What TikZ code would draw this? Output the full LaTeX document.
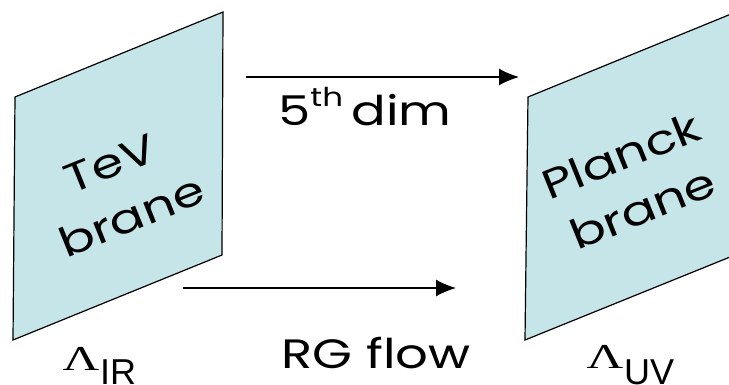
\documentclass[tikz,border=0pt]{standalone}
\usepackage{fontspec}
\setmainfont{Liberation Serif}
\newfontfamily\comic{Poppins}
\newfontfamily\lab{Liberation Sans}
\usetikzlibrary{arrows.meta}
\definecolor{brane}{HTML}{C6E5E8}
\newcommand{\wide}[1]{\scalebox{1.25}[1]{#1}}
\begin{document}
\begin{tikzpicture}[x=1pt,y=-1pt,
  branebox/.style={fill=brane,draw=black,line width=1.2pt,line join=miter},
  flow/.style={-{Latex[length=20pt,width=17pt]},line width=1.3pt},
  comictext/.style={font=\comic\fontsize{41}{57}\selectfont,inner sep=0pt,align=center},
  lam/.style={font=\fontsize{35}{36}\selectfont,inner sep=0pt,anchor=base},
  sub/.style={font=\lab\fontsize{36}{38}\selectfont,inner sep=0pt,anchor=base west}]
\useasboundingbox (0,0) rectangle (729,384);
\clip (0,0) rectangle (729,384);
\fill[white] (0,0) rectangle (729,384);
% branes
\draw[branebox] (15,97) -- (223,12) -- (222,255) -- (13,340) -- cycle;
\draw[branebox] (528,97) -- (736,12) -- (735,255) -- (525,340) -- cycle;
\node[comictext,rotate=22] (tev) at (121,190) {\wide{TeV}\\\wide{brane}};
\node[comictext,rotate=22] (planck) at (632,182) {\wide{Planck}\\\wide{brane}};
% arrows
\coordinate (a1) at (246,77);
\coordinate (b1) at (519,77);
\coordinate (a2) at (183,288);
\coordinate (b2) at (456,288);
\draw[flow] (a1) -- (b1);
\draw[flow] (a2) -- (b2);
\node[comictext,anchor=base] (dim) at (365,125) {\wide{5\raisebox{0.45em}{\fontsize{26}{28}\selectfont th}\,dim}};
\node[comictext,anchor=base] (rg) at (376,368) {\wide{RG flow}};
% cutoffs
\node[lam] (lir) at (81,370) {\scalebox{1.45}[1]{Λ}};
\node[sub] (ir) at (100,384) {IR};
\node[lam] (luv) at (605,368) {\scalebox{1.45}[1]{Λ}};
\node[sub] (uv) at (624,384) {UV};
\end{tikzpicture}
\end{document}
